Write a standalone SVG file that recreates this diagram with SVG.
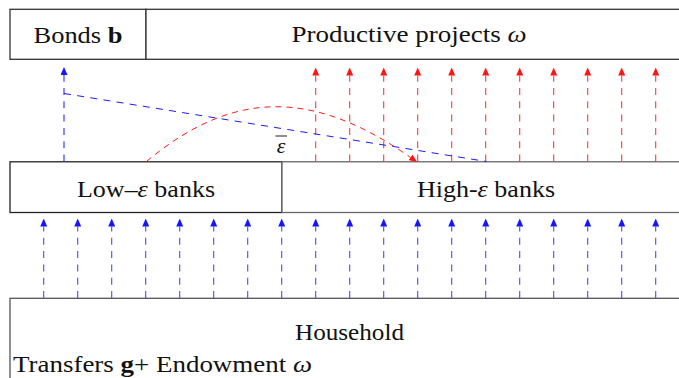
<svg xmlns="http://www.w3.org/2000/svg" width="679" height="378" viewBox="0 0 679 378">
<style>
.box{fill:#fff;stroke:#333;stroke-width:1.3}
.lbl{font-family:'Liberation Serif','Times New Roman',serif;font-size:24px;fill:#111}
.b{font-weight:bold}
.i{font-style:italic}
.bl{stroke:#4a4aff;stroke-width:1.1;stroke-dasharray:7 6.3;fill:none}
.rl{stroke:#ff3a3a;stroke-width:1.1;stroke-dasharray:7 6.3;fill:none}
</style>
<defs>
<marker id="ab" viewBox="0 -3.5 8 7" refX="0" refY="0" markerWidth="8" markerHeight="7" markerUnits="userSpaceOnUse" orient="auto"><path d="M0,-3.5 L8,0 L0,3.5 Z" fill="#1515ff"/></marker>
<marker id="ar" viewBox="0 -3.5 8 7" refX="0" refY="0" markerWidth="8" markerHeight="7" markerUnits="userSpaceOnUse" orient="auto"><path d="M0,-3.5 L8,0 L0,3.5 Z" fill="#ff1515"/></marker>
</defs>

<g id="bonds"><rect class="box" x="10" y="9.3" width="136" height="50"/><text class="lbl" x="78" y="42.5" text-anchor="middle" textLength="89" lengthAdjust="spacingAndGlyphs">Bonds <tspan class="b">b</tspan></text></g>
<g id="projects"><rect class="box" x="146" y="9.3" width="544" height="50"/><text class="lbl" x="409" y="42" text-anchor="middle" textLength="235" lengthAdjust="spacingAndGlyphs">Productive projects <tspan class="i">ω</tspan></text></g>
<g id="low"><rect class="box" style="stroke:#222" x="10" y="161.8" width="272" height="50.7"/><text class="lbl" x="146" y="197" text-anchor="middle" textLength="138" lengthAdjust="spacingAndGlyphs">Low–<tspan class="i">ε</tspan> banks</text></g>
<g id="high"><rect class="box" style="stroke:#666" x="282" y="161.8" width="408" height="50.7"/><text class="lbl" x="486" y="197" text-anchor="middle" textLength="138" lengthAdjust="spacingAndGlyphs">High-<tspan class="i">ε</tspan> banks</text></g>
<g id="household"><rect class="box" style="stroke:#555" x="10" y="298.3" width="690" height="100"/><text class="lbl" x="349.5" y="340" text-anchor="middle" textLength="109" lengthAdjust="spacingAndGlyphs">Household</text><text class="lbl" x="13" y="372" textLength="299" lengthAdjust="spacingAndGlyphs">Transfers <tspan class="b">g</tspan>+ Endowment <tspan class="i">ω</tspan></text></g>

<g id="connectors">
<g class="bl" marker-end="url(#ab)">
<path d="M43.7,298 V226.5"/><path d="M77.7,298 V226.5"/><path d="M111.7,298 V226.5"/><path d="M145.7,298 V226.5"/><path d="M179.7,298 V226.5"/><path d="M213.7,298 V226.5"/><path d="M247.7,298 V226.5"/><path d="M281.7,298 V226.5"/><path d="M315.7,298 V226.5"/><path d="M349.7,298 V226.5"/><path d="M383.7,298 V226.5"/><path d="M417.7,298 V226.5"/><path d="M451.7,298 V226.5"/><path d="M485.7,298 V226.5"/><path d="M519.7,298 V226.5"/><path d="M553.7,298 V226.5"/><path d="M587.7,298 V226.5"/><path d="M621.7,298 V226.5"/><path d="M655.7,298 V226.5"/>
</g>
<g class="rl" marker-end="url(#ar)">
<path d="M315.7,161.5 V75.5"/><path d="M349.7,161.5 V75.5"/><path d="M383.7,161.5 V75.5"/><path d="M417.7,161.5 V75.5"/><path d="M451.7,161.5 V75.5"/><path d="M485.7,161.5 V75.5"/><path d="M519.7,161.5 V75.5"/><path d="M553.7,161.5 V75.5"/><path d="M587.7,161.5 V75.5"/><path d="M621.7,161.5 V75.5"/><path d="M655.7,161.5 V75.5"/>
</g>
<path class="bl" style="stroke:#2a2aff" d="M64,161.5 V75" marker-end="url(#ab)"/>
<path class="bl" style="stroke:#1a1aff;stroke-width:1" d="M64,93.5 L486.5,161.5"/>
<path class="rl" style="stroke:#ff1a1a;stroke-width:1;stroke-dasharray:6 5" d="M146.5,161.5 C235,87.4 315.5,90.9 410.5,157.4" marker-end="url(#ar)"/>
<g id="epsbar"><text class="lbl i" x="281" y="153" text-anchor="middle" style="font-size:22px">ε</text><line x1="275.5" y1="136" x2="287" y2="136" stroke="#333" stroke-width="1.1"/></g>
</g>
</svg>
